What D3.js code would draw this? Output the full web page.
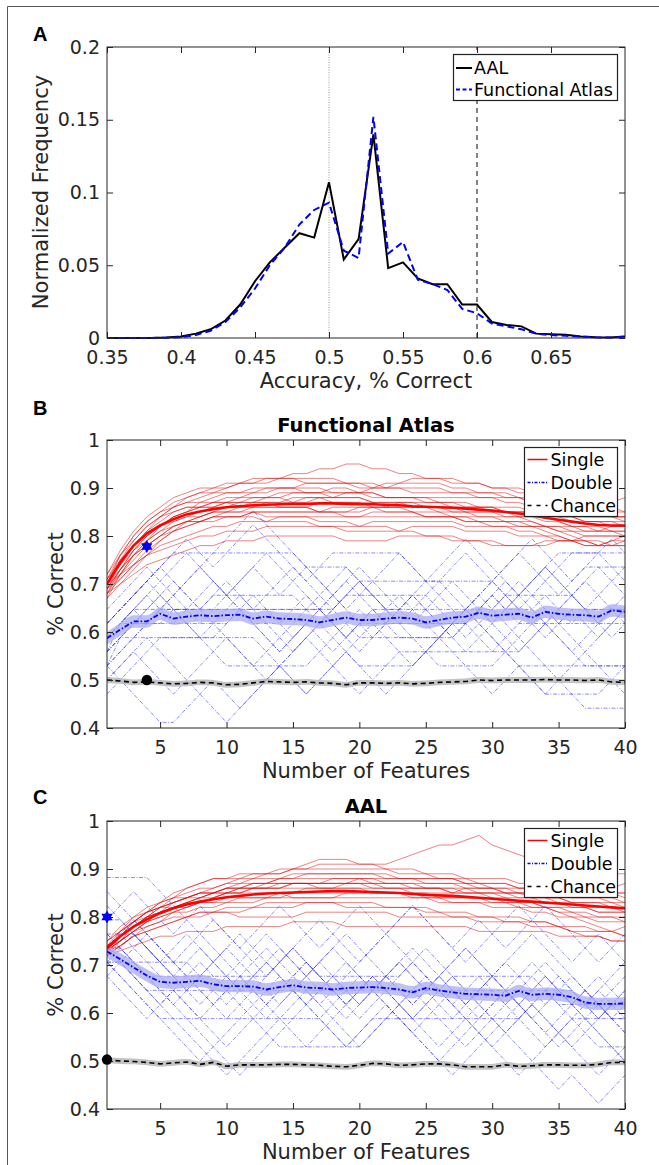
<!DOCTYPE html>
<html>
<head>
<meta charset="utf-8">
<script src="https://cdn.jsdelivr.net/npm/d3@7"></script>
<style>
  body { margin: 0; background: #fff; }
  svg { display: block; font-family: "DejaVu Sans", sans-serif; }
</style>
</head>
<body>
<svg id="fig" width="659" height="1165"></svg>
<script>
// ---------- panel A : histogram of accuracies ----------
const histBins = [0.35, 0.36, 0.37, 0.38, 0.39, 0.40, 0.41, 0.42, 0.43, 0.44, 0.45, 0.46,
  0.47, 0.48, 0.49, 0.50, 0.51, 0.52, 0.53, 0.54, 0.55, 0.56, 0.57, 0.58, 0.59, 0.60,
  0.61, 0.62, 0.63, 0.64, 0.65, 0.66, 0.67, 0.68, 0.69, 0.70];
const aalFreq = [0, 0, 0, 0, 0.0003, 0.001, 0.003, 0.006, 0.012, 0.023, 0.039, 0.052,
  0.062, 0.072, 0.069, 0.107, 0.054, 0.068, 0.140, 0.048, 0.052, 0.041, 0.037, 0.037, 0.023, 0.023,
  0.011, 0.009, 0.008, 0.003, 0.0025, 0.0022, 0.001, 0.0005, 0.0003, 0.001];
const funcFreq = [0, 0, 0, 0, 0.0002, 0.0005, 0.002, 0.005, 0.011, 0.021, 0.034, 0.050,
  0.062, 0.078, 0.088, 0.093, 0.060, 0.055, 0.152, 0.058, 0.066, 0.040, 0.037, 0.033, 0.020, 0.017,
  0.010, 0.008, 0.006, 0.003, 0.002, 0.0015, 0.001, 0.0005, 0.0003, 0.001];
const histXTicks = [0.35, 0.4, 0.45, 0.5, 0.55, 0.6, 0.65];
const histYTicks = [0, 0.05, 0.1, 0.15, 0.2];
const chanceLine = 0.5;
const sigLine = 0.6;

// ---------- panels B, C : accuracy vs number of features ----------
const features = [1, 2, 3, 4, 5, 6, 7, 8, 9, 10, 11, 12, 13, 14, 15, 16, 17, 18, 19, 20,
  21, 22, 23, 24, 25, 26, 27, 28, 29, 30, 31, 32, 33, 34, 35, 36, 37, 38, 39, 40];
const featTicks = [5, 10, 15, 20, 25, 30, 35, 40];
const accTicks = [0.4, 0.5, 0.6, 0.7, 0.8, 0.9, 1];
const nTest = 34; // double-subject accuracies come in steps of 1/34

// single-subject runs, % correct
const singleRunsB = [
  [69,73,77,80,82,84,85,86,87,88,88,89,89,90,90,89,89,90,90,89,89,88,88,88,87,87,86,86,86,85,85,84,84,83,83,82,82,82,81,81],
  [70,75,79,82,84,86,87,88,89,90,91,91,92,92,93,93,94,94,95,95,94,94,93,93,92,92,92,91,91,90,90,89,89,88,87,86,85,85,84,84],
  [68,71,74,76,78,79,80,81,82,82,83,83,83,84,84,84,83,83,83,82,82,82,81,81,80,80,80,79,79,79,78,78,78,79,79,79,80,80,80,80],
  [71,76,80,83,85,86,87,87,87,87,88,88,88,88,87,87,88,88,89,89,90,90,91,91,91,91,90,90,89,89,88,88,87,86,85,84,83,83,82,82],
  [69,72,75,78,80,82,83,84,85,85,85,86,86,86,86,86,85,85,85,85,86,86,87,87,86,86,86,85,85,85,84,84,83,82,81,80,79,79,78,78],
  [72,77,81,84,86,88,89,90,90,91,91,92,92,92,92,91,91,91,91,90,90,91,91,92,92,92,91,91,91,90,90,90,89,89,88,88,87,87,87,88],
  [67,70,73,76,79,81,83,84,85,86,86,87,87,87,88,88,88,87,87,87,86,86,86,85,85,85,84,84,84,84,83,83,83,82,82,82,81,81,82,82],
  [70,74,78,81,83,85,86,86,87,87,86,86,86,86,86,86,87,87,87,87,87,86,86,86,86,85,85,85,84,84,84,84,84,84,84,83,83,83,83,83],
  [68,72,76,79,81,83,84,85,86,87,87,88,88,89,89,89,89,88,88,88,87,87,87,87,87,87,87,87,86,86,86,86,85,85,84,84,84,84,84,84],
  [71,75,78,80,82,83,84,84,85,85,85,85,84,84,84,84,84,84,84,84,85,85,85,85,84,84,84,83,83,82,82,81,81,80,80,79,79,78,78,79],
  [69,74,78,81,84,86,88,89,90,90,91,91,91,92,92,92,92,92,91,91,91,90,90,90,90,90,89,89,89,89,89,88,88,88,87,87,86,86,86,85],
  [70,73,76,78,80,81,82,83,84,85,86,86,87,87,87,88,88,88,88,88,87,87,87,86,86,86,86,86,86,86,85,85,85,85,84,84,84,84,85,85],
  [68,73,77,80,82,84,85,86,86,87,87,87,88,88,89,89,89,89,89,89,88,88,88,88,88,88,88,88,88,88,87,87,86,86,85,85,84,84,84,83],
  [72,76,79,82,84,85,86,86,86,86,87,87,87,86,86,86,85,85,85,86,86,86,86,86,86,86,85,85,85,85,85,85,85,84,83,82,82,81,81,80],
  [69,71,74,77,79,81,82,83,83,84,84,85,85,85,85,85,85,86,86,86,86,85,85,85,84,84,84,84,83,83,83,82,82,81,80,79,78,78,79,79],
  [70,76,80,83,85,87,88,89,89,89,89,89,90,90,90,90,90,89,89,89,89,88,88,88,88,87,87,86,86,86,85,85,85,84,84,84,83,83,83,82],
  [71,74,77,79,81,82,83,83,84,84,84,85,85,85,85,85,85,85,84,84,84,84,84,84,84,84,84,83,83,83,83,83,82,82,81,81,80,80,80,80],
  [67,72,76,79,82,84,85,87,88,89,89,90,90,90,90,91,91,91,91,91,90,90,90,89,89,89,89,89,88,88,88,88,87,87,86,85,85,84,84,84],
  [68,70,72,74,75,76,77,78,78,79,79,79,80,80,80,80,80,80,79,79,79,79,80,80,80,80,79,79,79,78,78,78,78,78,79,79,79,78,78,78],
  [70,72,74,76,77,78,79,80,80,81,81,81,82,82,82,82,82,82,81,81,81,81,81,82,82,82,82,81,81,81,81,80,80,80,79,79,78,78,79,80],
  [69,73,76,78,80,82,83,83,84,84,84,84,83,83,83,83,82,82,82,82,83,83,83,83,83,83,83,82,82,82,82,82,82,82,82,81,81,81,81,81]
];
// double-subject runs, number correct out of nTest
const doubleHitsB = [
  [20,21,22,23,22,21,22,23,24,23,22,21,21,21,22,23,22,21,20,21,22,22,22,23,24,23,22,21,22,23,22,22,22,21,22,23,24,23,22,22],
  [19,20,21,21,21,22,22,22,22,22,22,22,22,22,22,22,22,21,20,21,21,21,21,21,21,21,21,21,22,23,22,21,21,21,21,21,22,22,22,22],
  [18,19,20,21,22,23,24,25,26,27,28,29,28,27,26,25,24,23,22,21,20,21,22,23,22,21,20,19,20,21,22,23,24,25,24,23,22,23,24,25],
  [21,22,23,24,25,26,26,26,26,26,26,26,26,26,26,25,24,23,22,23,24,25,26,25,24,24,24,24,24,24,25,26,25,24,23,24,25,25,25,25],
  [17,18,19,20,19,18,17,16,15,14,15,16,17,18,19,20,21,20,19,18,18,18,18,18,19,20,21,22,21,20,19,18,18,18,18,18,18,18,18,18],
  [20,21,21,21,22,22,22,22,23,23,23,23,23,23,23,22,21,22,23,23,23,23,23,23,23,22,21,20,21,22,23,23,23,23,23,23,22,21,22,23],
  [19,20,21,22,23,24,23,22,21,20,19,18,19,20,21,22,23,24,25,24,23,22,21,20,19,18,18,18,18,18,19,20,21,22,21,20,19,20,21,22],
  [22,23,24,25,24,23,24,25,24,23,22,21,20,19,20,21,22,21,20,19,20,21,22,23,22,21,20,21,22,23,24,23,22,21,20,19,20,21,22,21],
  [16,17,18,19,20,20,20,20,20,20,20,20,19,18,17,16,17,18,19,20,20,20,20,20,20,20,21,22,21,20,19,18,17,16,16,16,16,16,17,18],
  [20,21,22,21,22,23,22,21,22,23,24,25,24,23,24,25,25,25,25,24,23,22,21,22,23,24,25,26,25,24,23,22,23,24,25,26,26,26,25,24],
  [18,19,20,21,21,21,21,21,21,21,22,23,22,21,20,21,22,23,24,23,22,21,21,21,21,21,21,21,20,19,20,21,22,23,22,21,21,21,21,21],
  [21,22,23,24,23,22,21,20,19,18,18,18,18,18,18,18,19,20,21,22,21,20,19,18,19,20,21,22,23,24,23,22,21,20,21,22,21,20,21,22],
  [19,21,22,23,24,25,26,25,24,23,24,25,26,25,24,23,22,23,24,25,24,23,22,21,22,23,24,23,22,21,22,23,24,25,24,23,24,25,24,23],
  [17,18,19,18,17,16,17,18,19,20,19,18,17,18,19,20,19,18,17,16,17,18,19,19,19,19,19,19,19,19,19,19,20,21,20,19,18,18,18,18],
  [20,21,22,22,22,22,22,22,22,22,22,22,22,22,22,22,22,22,23,24,23,22,22,22,22,22,22,22,22,22,23,24,23,22,21,22,22,22,22,22],
  [18,20,21,22,23,22,21,20,21,22,23,22,21,20,19,20,21,22,21,20,21,22,23,22,21,20,21,22,23,22,21,20,19,18,17,16,15,15,15,15],
  [21,22,23,24,25,24,23,22,23,24,23,22,23,24,25,24,23,22,23,24,24,24,24,24,24,24,23,22,23,24,25,26,27,26,25,24,25,26,27,26],
  [19,20,20,20,20,20,20,20,20,21,22,21,20,19,20,21,20,19,20,21,22,21,20,20,20,20,20,21,22,21,20,19,20,21,22,23,22,21,20,21],
  [18,17,16,15,14,14,15,16,17,16,15,16,17,18,17,16,17,18,19,18,17,16,17,18,19,20,19,18,17,16,17,18,17,16,17,18,19,18,17,16],
  [21,22,23,24,25,26,27,26,25,26,27,28,27,26,25,24,25,26,26,26,26,26,26,25,24,25,26,27,26,25,24,23,24,25,26,26,26,26,26,26]
];
const singleMeanB = [0.700,0.745,0.780,0.805,0.822,0.835,0.845,0.851,0.856,0.860,
  0.862,0.864,0.865,0.866,0.867,0.867,0.868,0.868,0.867,0.866,
  0.866,0.865,0.864,0.862,0.861,0.860,0.859,0.857,0.855,0.853,
  0.850,0.847,0.843,0.838,0.834,0.830,0.826,0.823,0.822,0.822];
const doubleMeanB = [0.587,0.605,0.622,0.622,0.638,0.628,0.632,0.635,0.633,0.635,
  0.636,0.628,0.632,0.628,0.627,0.625,0.620,0.625,0.630,0.625,
  0.625,0.628,0.630,0.628,0.620,0.625,0.630,0.632,0.640,0.634,
  0.636,0.638,0.630,0.642,0.638,0.636,0.635,0.632,0.645,0.642];
const chanceMeanB = [0.500,0.498,0.495,0.496,0.494,0.492,0.493,0.495,0.494,0.490,
  0.491,0.494,0.497,0.496,0.495,0.496,0.494,0.493,0.490,0.494,
  0.494,0.493,0.494,0.492,0.493,0.495,0.496,0.497,0.500,0.499,
  0.500,0.500,0.500,0.501,0.500,0.500,0.499,0.500,0.496,0.495];
const bestDoubleB = [4, 0.778];
const bestChanceB = [4, 0.5];

const singleRunsC = [
  [73,76,79,81,83,85,86,87,88,88,89,89,89,90,90,90,91,91,91,91,91,91,92,93,94,95,95,96,97,95,94,93,92,92,91,91,90,90,89,89],
  [74,76,78,80,81,82,83,84,85,85,86,86,86,87,87,87,87,87,87,87,86,86,86,86,86,86,85,85,85,85,84,84,84,83,83,82,82,81,81,81],
  [72,74,76,77,78,79,80,81,81,82,82,82,83,83,83,83,83,83,82,82,82,82,82,82,81,81,80,80,80,80,79,79,79,79,78,78,78,77,77,76],
  [75,78,80,82,83,84,85,86,86,87,87,88,88,88,89,89,89,89,89,89,89,88,88,88,88,88,88,88,87,87,87,86,86,86,86,85,85,85,85,84],
  [73,75,77,79,80,81,82,83,84,85,85,86,86,86,87,87,87,88,88,88,88,87,87,87,86,86,86,85,85,84,84,83,83,82,81,80,79,78,77,76],
  [74,77,80,81,82,83,84,84,85,85,85,85,85,85,84,84,84,84,84,84,84,84,84,84,84,84,84,84,84,83,83,83,82,82,81,81,80,80,80,79],
  [72,75,77,79,81,83,84,85,86,87,88,88,89,89,90,90,90,90,90,90,90,90,89,89,89,88,88,87,87,86,86,85,85,85,85,85,86,86,86,87],
  [74,76,78,79,80,81,81,82,82,83,83,83,84,84,85,85,85,85,85,85,85,85,85,85,85,84,84,84,84,84,83,83,83,82,82,82,82,81,81,81],
  [73,77,79,81,83,84,84,85,85,86,86,87,87,87,87,87,86,86,86,86,86,86,86,85,85,85,85,86,86,86,85,85,85,84,84,83,83,83,82,82],
  [75,77,79,80,81,82,82,83,83,83,84,84,84,85,85,86,86,86,86,86,85,85,85,85,84,84,83,83,83,82,82,82,81,81,80,80,80,79,79,79],
  [72,74,76,78,79,81,82,83,84,85,86,87,87,88,88,89,89,89,89,89,89,89,88,88,88,88,88,87,87,87,87,86,86,86,86,86,85,85,85,85],
  [74,76,78,80,82,83,84,85,85,86,86,86,86,86,86,86,86,86,87,87,87,87,87,86,86,86,85,85,85,85,85,84,84,84,83,83,82,82,82,81],
  [73,75,78,80,82,84,86,87,88,88,88,89,89,89,90,91,92,92,92,91,91,90,90,90,89,89,89,88,88,88,88,87,87,87,87,86,86,86,85,85],
  [73,74,76,77,78,79,80,80,81,81,81,82,82,82,82,83,83,83,83,83,83,82,82,82,82,81,81,81,80,80,80,80,79,79,78,77,76,76,75,75],
  [74,76,79,81,82,83,84,85,85,86,86,86,87,87,87,87,87,87,87,87,87,86,86,86,86,86,86,86,85,85,85,85,85,84,84,84,84,84,84,83],
  [72,76,78,80,81,82,83,84,85,86,87,87,87,88,88,88,88,88,88,88,87,87,87,87,87,87,87,86,86,86,85,85,84,84,84,83,83,83,83,82],
  [75,77,79,81,82,82,83,83,83,84,84,84,84,84,84,84,84,84,85,85,85,85,85,84,84,83,83,83,83,83,83,82,82,82,82,81,81,80,80,80],
  [73,75,77,79,81,82,83,84,84,85,85,86,86,86,87,87,87,87,87,88,88,88,88,88,87,87,87,87,86,86,86,86,86,85,85,84,84,84,83,83],
  [72,73,74,75,76,76,77,77,77,78,78,78,78,78,79,79,79,79,78,78,78,78,78,78,78,78,78,78,77,77,77,77,77,77,76,76,76,76,75,75],
  [74,75,77,78,79,80,80,81,81,81,80,80,80,80,80,81,81,81,81,81,81,81,80,80,80,80,80,80,79,79,79,79,78,78,78,77,77,77,77,78]
];
const doubleHitsC = [
  [26,26,26,25,24,23,22,23,24,25,24,23,22,21,22,23,24,23,22,21,22,23,24,25,24,23,22,21,22,23,22,21,22,23,22,21,22,21,20,21],
  [30,30,30,30,29,28,27,26,25,24,23,22,23,24,25,24,23,22,21,22,23,22,21,20,21,22,23,22,21,20,19,20,21,22,21,20,21,22,21,20],
  [25,24,23,22,22,22,22,22,22,22,22,22,22,22,22,22,22,22,22,22,22,22,22,22,22,22,22,22,22,22,22,22,22,22,22,22,21,20,21,22],
  [24,23,22,21,20,19,18,17,18,19,20,21,22,23,22,21,20,19,18,19,20,21,20,19,18,17,18,19,20,21,22,21,20,19,18,19,20,21,20,19],
  [27,27,26,25,24,25,26,25,24,23,24,25,26,25,24,23,24,25,24,23,22,23,24,23,22,23,24,25,24,23,22,23,24,23,22,21,22,23,22,21],
  [24,24,23,22,21,20,19,18,17,16,17,18,19,20,21,22,21,20,19,18,19,20,21,20,19,18,19,20,19,18,17,16,17,18,19,20,19,18,18,18],
  [25,25,24,23,23,23,23,23,23,23,23,23,23,24,25,24,23,23,23,23,23,23,23,24,25,24,23,23,23,23,23,23,23,22,21,21,21,21,21,21],
  [29,28,27,26,25,24,23,22,21,20,21,22,21,20,19,18,19,20,21,22,23,22,21,20,21,22,23,22,21,20,19,18,17,16,15,16,15,14,15,16],
  [23,22,21,20,21,22,21,20,21,22,23,22,21,22,23,24,23,22,21,22,23,22,21,22,23,22,21,20,21,22,21,20,21,22,23,22,21,20,21,22],
  [26,25,24,23,22,21,22,23,24,25,26,25,24,23,22,23,24,25,26,25,24,23,22,21,22,23,24,25,24,23,24,25,26,25,24,23,22,21,20,20],
  [24,23,22,21,20,20,20,20,20,20,20,20,20,20,20,20,20,19,18,19,20,20,20,20,20,20,20,20,20,20,20,20,19,18,19,20,20,20,20,20],
  [25,26,25,24,23,22,21,20,19,18,19,20,21,22,23,24,23,22,21,20,21,22,23,24,23,22,21,20,19,18,19,20,21,20,19,18,17,16,17,18],
  [28,27,26,25,24,23,24,25,24,23,22,23,24,23,22,21,22,23,22,21,22,23,22,21,22,23,22,21,22,23,24,23,22,21,22,23,22,21,22,23],
  [24,25,26,25,24,23,22,21,22,23,22,21,20,21,22,21,20,21,22,23,22,21,20,19,20,21,22,21,20,21,22,21,20,19,20,21,22,21,20,19],
  [25,24,23,22,21,22,23,24,23,22,21,20,19,18,18,18,18,18,18,18,19,20,21,22,21,20,19,18,19,20,21,22,21,20,19,18,19,20,21,21],
  [23,24,25,26,25,24,23,22,21,22,23,24,25,24,23,22,21,22,23,24,25,26,25,24,23,22,21,22,23,22,21,22,23,24,23,22,21,22,23,24],
  [26,25,24,23,22,21,20,19,18,17,16,17,18,19,20,21,22,23,24,23,22,21,20,19,18,17,16,17,18,19,20,21,22,23,22,21,20,19,18,17],
  [24,24,24,24,24,24,24,23,22,21,22,23,24,25,24,23,22,21,20,21,22,23,24,23,22,21,20,21,22,23,22,21,20,21,22,21,20,19,18,17],
  [27,28,29,28,27,26,27,28,27,26,25,26,27,28,27,26,25,26,27,28,27,26,27,28,27,26,25,26,27,26,25,26,27,28,27,26,25,24,25,26],
  [25,26,27,26,25,24,25,26,27,26,25,24,23,24,25,26,27,26,25,24,25,26,27,28,27,26,25,24,25,26,27,28,27,26,25,24,25,26,25,24]
];
const singleMeanC = [0.735,0.760,0.780,0.795,0.808,0.818,0.826,0.832,0.837,0.841,
  0.844,0.847,0.849,0.850,0.851,0.852,0.853,0.854,0.854,0.853,
  0.852,0.851,0.850,0.848,0.846,0.845,0.844,0.842,0.840,0.838,
  0.836,0.834,0.832,0.830,0.828,0.826,0.824,0.822,0.820,0.818];
const doubleMeanC = [0.728,0.712,0.695,0.678,0.665,0.663,0.665,0.667,0.660,0.656,
  0.656,0.655,0.649,0.654,0.658,0.653,0.652,0.649,0.652,0.653,
  0.654,0.652,0.649,0.643,0.652,0.647,0.643,0.640,0.639,0.638,
  0.636,0.646,0.638,0.640,0.638,0.633,0.622,0.619,0.619,0.620];
const chanceMeanC = [0.502,0.500,0.499,0.497,0.494,0.496,0.498,0.493,0.497,0.489,
  0.492,0.492,0.492,0.493,0.493,0.492,0.491,0.489,0.488,0.491,
  0.495,0.494,0.491,0.492,0.494,0.494,0.492,0.488,0.488,0.488,
  0.492,0.489,0.490,0.492,0.492,0.491,0.491,0.493,0.497,0.497];
const bestDoubleC = [1, 0.8];
const bestChanceC = [1, 0.503];

const legendRows = ["Single", "Double", "Chance"];

// ---------------------------------------------------------------
const INK = "#262626";
const plotLeft = 107, plotRight = 625;
const svg = d3.select("#fig");

// figure frame (only top and left edge fall inside the picture)
svg.append("path").attr("d", "M7.5,1165V6.5H659")
  .attr("fill", "none").attr("stroke", "#555").attr("stroke-width", 1);

// six pointed star, two triangles
function hexagram(cx, cy, r) {
  const tri = (a0) => d3.range(3).map((k) => {
    const a = a0 + (k * 2 * Math.PI) / 3;
    return [cx + r * Math.cos(a), cy + r * Math.sin(a)];
  });
  return "M" + tri(-Math.PI / 2).join("L") + "Z" + "M" + tri(Math.PI / 2).join("L") + "Z";
}

// box with inward ticks on all four sides, matlab style
function boxAxes(g, x, y, xTicks, yTicks) {
  const [y0, y1] = y.range();
  const [x0, x1] = x.range();
  const tidy = (s) => s.attr("font-family", null).attr("font-size", 19)
    .call((a) => a.select(".domain").remove())
    .call((a) => a.selectAll(".tick line").attr("stroke", INK))
    .call((a) => a.selectAll(".tick text").attr("fill", INK));

  g.append("g").attr("transform", `translate(0,${y0})`)
    .call(d3.axisBottom(x).tickValues(xTicks).tickSize(-6).tickPadding(13).tickFormat((d) => String(d)))
    .call(tidy);
  g.append("g").attr("transform", `translate(0,${y1})`)
    .call(d3.axisTop(x).tickValues(xTicks).tickSize(-6).tickFormat(""))
    .call(tidy);
  g.append("g").attr("transform", `translate(${x0},0)`)
    .call(d3.axisLeft(y).tickValues(yTicks).tickSize(-6).tickPadding(7).tickFormat((d) => String(d)))
    .call(tidy);
  g.append("g").attr("transform", `translate(${x1},0)`)
    .call(d3.axisRight(y).tickValues(yTicks).tickSize(-6).tickFormat(""))
    .call(tidy);
  g.append("rect").attr("x", x0).attr("y", y1).attr("width", x1 - x0).attr("height", y0 - y1)
    .attr("fill", "none").attr("stroke", INK).attr("stroke-width", 1);
}

function panelLetter(txt, y) {
  svg.append("text").attr("x", 33).attr("y", y).text(txt)
    .attr("font-family", "Liberation Sans, Arial, sans-serif")
    .attr("font-weight", "bold").attr("font-size", 20).attr("fill", "#000");
}

function yLabel(txt, xBase, yMid) {
  svg.append("text").attr("transform", `translate(${xBase},${yMid}) rotate(-90)`)
    .attr("text-anchor", "middle").attr("font-size", 21).attr("fill", INK).text(txt);
}

function xLabel(txt, yBase) {
  svg.append("text").attr("x", (plotLeft + plotRight) / 2).attr("y", yBase)
    .attr("text-anchor", "middle").attr("font-size", 21).attr("fill", INK).text(txt);
}

// ---------------- panel A ----------------
const histogramPanel = () => {
  let top, bottom;
  const my = (g) => {
    const x = d3.scaleLinear().domain([0.35, 0.7]).range([plotLeft, plotRight]);
    const y = d3.scaleLinear().domain([0, 0.2]).range([bottom, top]);
    const line = d3.line().x((d, i) => x(histBins[i])).y((d) => y(d));

    g.append("line").attr("x1", x(chanceLine)).attr("x2", x(chanceLine))
      .attr("y1", y(0)).attr("y2", y(0.2))
      .attr("stroke", "#9a9a9a").attr("stroke-width", 1).attr("stroke-dasharray", "1,1.5");
    g.append("line").attr("x1", x(sigLine)).attr("x2", x(sigLine))
      .attr("y1", y(0)).attr("y2", y(0.2))
      .attr("stroke", "#333").attr("stroke-width", 1.2).attr("stroke-dasharray", "5,4");

    g.append("path").attr("d", line(aalFreq)).attr("fill", "none")
      .attr("stroke", "#000").attr("stroke-width", 2);
    g.append("path").attr("d", line(funcFreq)).attr("fill", "none")
      .attr("stroke", "#0000ff").attr("stroke-width", 2).attr("stroke-dasharray", "7,4");

    boxAxes(g, x, y, histXTicks, histYTicks);

    // legend
    const lg = g.append("g");
    lg.append("rect").attr("x", 453.5).attr("y", 54.5).attr("width", 164).attr("height", 46)
      .attr("fill", "#fff").attr("stroke", "#222").attr("stroke-width", 1.2);
    [["AAL", "#000", null], ["Functional Atlas", "#0000ff", "4,2.5"]].forEach(([t, c, dash], i) => {
      const yy = 68 + i * 21.5;
      lg.append("line").attr("x1", 456).attr("x2", 472).attr("y1", yy).attr("y2", yy)
        .attr("stroke", c).attr("stroke-width", 2).attr("stroke-dasharray", dash);
      lg.append("text").attr("x", 474).attr("y", yy).attr("dy", "0.36em")
        .attr("font-size", 17.5).attr("fill", "#000").text(t);
    });
  };
  my.top = function (_) { return arguments.length ? ((top = +_), my) : top; };
  my.bottom = function (_) { return arguments.length ? ((bottom = +_), my) : bottom; };
  return my;
};

// ---------------- panels B and C ----------------
const featurePanel = () => {
  let top, bottom, title, singleRuns, doubleHits, singleMean, doubleMean, chanceMean, star, dot, id;
  const my = (g) => {
    const x = d3.scaleLinear().domain([1, 40]).range([plotLeft, plotRight]);
    const y = d3.scaleLinear().domain([0.4, 1]).range([bottom, top]);
    const line = d3.line().x((d, i) => x(features[i])).y((d) => y(d));
    const band = (half) => d3.area().x((d, i) => x(features[i]))
      .y0((d) => y(d - half)).y1((d) => y(d + half)).curve(d3.curveMonotoneX);

    g.append("clipPath").attr("id", id).append("rect")
      .attr("x", plotLeft).attr("y", top).attr("width", plotRight - plotLeft).attr("height", bottom - top);
    const plot = g.append("g").attr("clip-path", `url(#${id})`);

    plot.append("g").selectAll("path")
      .data(doubleHits.map((run) => run.map((c) => c / nTest)))
      .join("path").attr("d", line).attr("fill", "none")
      .attr("stroke", "#2020ff").attr("stroke-opacity", 0.7).attr("stroke-width", 0.75)
      .attr("stroke-dasharray", "4,1.5,1,1.5");

    plot.append("g").selectAll("path")
      .data(singleRuns.map((run) => run.map((v) => v / 100)))
      .join("path").attr("d", line).attr("fill", "none")
      .attr("stroke", "#e00000").attr("stroke-opacity", 0.55).attr("stroke-width", 0.9);

    plot.append("path").attr("d", band(0.013)(doubleMean)).attr("fill", "#a9abf3").attr("opacity", 0.75);
    plot.append("path").attr("d", band(0.006)(chanceMean)).attr("fill", "#b9b9b9").attr("opacity", 0.85);

    plot.append("path").attr("d", line(singleMean)).attr("fill", "none")
      .attr("stroke", "#ff0000").attr("stroke-width", 2.6);
    plot.append("path").attr("d", line(doubleMean)).attr("fill", "none")
      .attr("stroke", "#0000ff").attr("stroke-width", 1.8).attr("stroke-dasharray", "5,2,1.5,2");
    plot.append("path").attr("d", line(chanceMean)).attr("fill", "none")
      .attr("stroke", "#000").attr("stroke-width", 1.6).attr("stroke-dasharray", "5,3.5");

    boxAxes(g, x, y, featTicks, accTicks);

    g.append("path").attr("d", hexagram(x(star[0]), y(star[1]), 6.5)).attr("fill", "#0000ff");
    g.append("circle").attr("cx", x(dot[0])).attr("cy", y(dot[1])).attr("r", 5.2).attr("fill", "#000");

    g.append("text").attr("x", (plotLeft + plotRight) / 2).attr("y", top - 8)
      .attr("text-anchor", "middle").attr("font-weight", "bold").attr("font-size", 19.5)
      .attr("fill", "#000").text(title);

    // legend
    const lx = 524.5, ly = top + 7.5;
    const lg = g.append("g");
    lg.append("rect").attr("x", lx).attr("y", ly).attr("width", 93).attr("height", 69)
      .attr("fill", "#fff").attr("stroke", "#222").attr("stroke-width", 1.2);
    const styles = [["#ff0000", null, 1.5], ["#0000ff", "3,1.5,1,1.5", 1.5], ["#000", "4,5", 1.5]];
    legendRows.forEach((t, i) => {
      const yy = ly + 12 + i * 23;
      lg.append("line").attr("x1", lx + 3).attr("x2", lx + 23).attr("y1", yy).attr("y2", yy)
        .attr("stroke", styles[i][0]).attr("stroke-width", styles[i][2])
        .attr("stroke-dasharray", styles[i][1]);
      lg.append("text").attr("x", lx + 26).attr("y", yy).attr("dy", "0.36em")
        .attr("font-size", 17.5).attr("fill", "#000").text(t);
    });
  };
  my.top = function (_) { return arguments.length ? ((top = +_), my) : top; };
  my.bottom = function (_) { return arguments.length ? ((bottom = +_), my) : bottom; };
  my.title = function (_) { return arguments.length ? ((title = _), my) : title; };
  my.singleRuns = function (_) { return arguments.length ? ((singleRuns = _), my) : singleRuns; };
  my.doubleHits = function (_) { return arguments.length ? ((doubleHits = _), my) : doubleHits; };
  my.singleMean = function (_) { return arguments.length ? ((singleMean = _), my) : singleMean; };
  my.doubleMean = function (_) { return arguments.length ? ((doubleMean = _), my) : doubleMean; };
  my.chanceMean = function (_) { return arguments.length ? ((chanceMean = _), my) : chanceMean; };
  my.star = function (_) { return arguments.length ? ((star = _), my) : star; };
  my.dot = function (_) { return arguments.length ? ((dot = _), my) : dot; };
  my.id = function (_) { return arguments.length ? ((id = _), my) : id; };
  return my;
};

svg.append("g").call(histogramPanel().top(47).bottom(338));
panelLetter("A", 41);
yLabel("Normalized Frequency", 48, 192);
xLabel("Accuracy, % Correct", 388);

svg.append("g").call(
  featurePanel().id("clipB").top(440).bottom(728).title("Functional Atlas")
    .singleRuns(singleRunsB).doubleHits(doubleHitsB)
    .singleMean(singleMeanB).doubleMean(doubleMeanB).chanceMean(chanceMeanB)
    .star(bestDoubleB).dot(bestChanceB)
);
panelLetter("B", 415);
yLabel("% Correct", 63, 584);
xLabel("Number of Features", 778);

svg.append("g").call(
  featurePanel().id("clipC").top(821).bottom(1109).title("AAL")
    .singleRuns(singleRunsC).doubleHits(doubleHitsC)
    .singleMean(singleMeanC).doubleMean(doubleMeanC).chanceMean(chanceMeanC)
    .star(bestDoubleC).dot(bestChanceC)
);
panelLetter("C", 804);
yLabel("% Correct", 63, 965);
xLabel("Number of Features", 1159);
</script>
</body>
</html>
